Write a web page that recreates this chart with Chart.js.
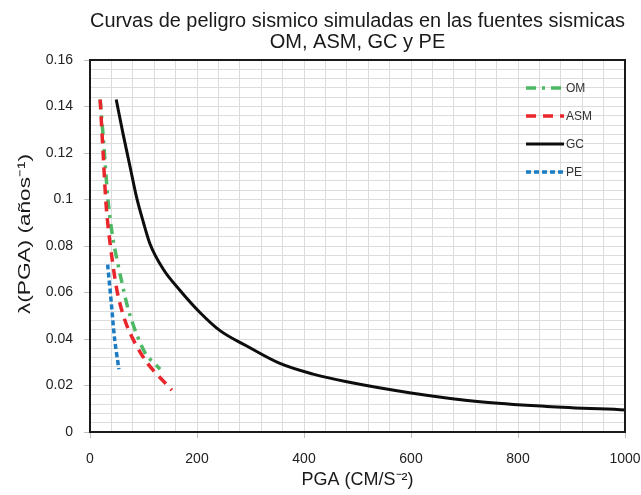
<!DOCTYPE html>
<html>
<head>
<meta charset="utf-8">
<title>Curvas de peligro sismico</title>
<script src="https://cdn.jsdelivr.net/npm/chart.js@4/dist/chart.umd.min.js"></script>
<style>
  body { margin: 0; background: #ffffff; }
  #wrap { width: 641px; height: 495px; }
</style>
</head>
<body>
<div id="wrap"><canvas id="myChart" width="641" height="495"></canvas></div>
<script>
// Series names (legend order)
let seriesNames = ["OM", "ASM", "GC", "PE"];

// PGA values (cm/s2) and annual rates
let omPGA = [19, 25, 34, 43, 59, 75, 103, 131];
let omRate = [0.143, 0.126, 0.099, 0.083, 0.065, 0.050, 0.034, 0.027];

let asmPGA = [19, 25, 31, 41, 53, 72, 106, 153];
let asmRate = [0.143, 0.118, 0.095, 0.075, 0.058, 0.044, 0.030, 0.018];

let gcPGA = [49, 62, 75, 87, 100, 112, 137, 168, 206, 243, 293, 355, 417, 480, 600, 729, 854, 1000];
let gcRate = [0.143, 0.128, 0.114, 0.101, 0.090, 0.081, 0.070, 0.061, 0.0513, 0.0436, 0.037, 0.0295, 0.0249, 0.0216, 0.0168, 0.013, 0.011, 0.0095];

let pePGA = [33, 40, 46, 54];
let peRate = [0.072, 0.055, 0.040, 0.027];

// Axis ticks: labelled every 0.02 / 200, grid every 0.004 / 40
let yTickLabels = [0, 0.02, 0.04, 0.06, 0.08, 0.1, 0.12, 0.14, 0.16];
let xTickLabels = [0, 200, 400, 600, 800, 1000];

// Texts
let chartTitle = ['Curvas de peligro sismico simuladas en las fuentes sismicas', 'OM, ASM, GC y PE'];
let xTitle = 'PGA (CM/S⁻²)';
let yTitle = 'λ(PGA) (años⁻¹)';

// Function to join x and y arrays into points
function toPoints(xs, ys) {
    let pts = [];
    for (let i = 0; i < xs.length; i++) {
        pts.push({ x: xs[i], y: ys[i] });
    }
    return pts;
}

function isLabelled(value, list) {
    return list.some(function(v) { return Math.abs(v - value) < 1e-7; });
}

// Draws the black frame round the plot area
const framePlugin = {
    id: 'frame',
    afterDatasetsDraw(chart) {
        const a = chart.chartArea;
        const c = chart.ctx;
        c.save();
        c.strokeStyle = '#1a1a1a';
        c.lineWidth = 2;
        c.strokeRect(a.left, a.top, a.right - a.left, a.bottom - a.top);
        c.restore();
    }
};

// Vertical axis title, drawn a bit stretched like the original
const yTitlePlugin = {
    id: 'yTitle',
    afterDraw(chart) {
        const c = chart.ctx;
        c.save();
        c.translate(25, 234);
        c.rotate(-Math.PI / 2);
        c.scale(1.33, 1);
        c.fillStyle = '#1a1a1a';
        c.font = '17px "Liberation Sans", Arial, sans-serif';
        c.textAlign = 'center';
        c.textBaseline = 'middle';
        c.fillText(yTitle, 0, 0);
        c.restore();
    }
};

// Small legend inside the plot, top right
const boxLegendPlugin = {
    id: 'boxLegend',
    afterDraw(chart) {
        const c = chart.ctx;
        const x0 = chart.scales.x.getPixelForValue(815);
        let y = chart.scales.y.getPixelForValue(0.148);
        c.save();
        chart.data.datasets.forEach(function(ds) {
            c.strokeStyle = ds.borderColor;
            c.lineWidth = ds.borderWidth;
            c.setLineDash(ds.borderDash || []);
            c.lineCap = 'butt';
            c.beginPath();
            c.moveTo(x0, y);
            c.lineTo(x0 + 38, y);
            c.stroke();
            c.setLineDash([]);
            c.fillStyle = '#333333';
            c.font = '12px "Liberation Sans", Arial, sans-serif';
            c.textBaseline = 'middle';
            c.fillText(ds.label, x0 + 40, y + 1);
            y += 28;
        });
        c.restore();
    }
};

// Initialize the chart
const ctx = document.getElementById('myChart').getContext('2d');
const chart = new Chart(ctx, {
    type: 'line',
    data: {
        datasets: [{
            label: seriesNames[0],
            data: toPoints(omPGA, omRate),
            borderColor: '#4fb865',
            borderWidth: 3.5,
            borderDash: [10, 6, 3, 6],
            tension: 0.3,
            order: 2
        }, {
            label: seriesNames[1],
            data: toPoints(asmPGA, asmRate),
            borderColor: '#e8262b',
            borderWidth: 3.5,
            borderDash: [10, 7],
            tension: 0.3,
            order: 1
        }, {
            label: seriesNames[2],
            data: toPoints(gcPGA, gcRate),
            borderColor: '#0d0d0d',
            borderWidth: 3,
            cubicInterpolationMode: 'monotone',
            order: 3
        }, {
            label: seriesNames[3],
            data: toPoints(pePGA, peRate),
            borderColor: '#1b7cc4',
            borderWidth: 3.5,
            borderDash: [5, 3],
            tension: 0.3,
            order: 4
        }]
    },
    options: {
        responsive: false,
        animation: false,
        elements: { point: { radius: 0 } },
        layout: { padding: { left: 0, right: 16, top: 6, bottom: 0 } },
        plugins: {
            legend: { display: false },
            tooltip: { enabled: false },
            title: {
                display: true,
                fullSize: false,
                text: chartTitle,
                color: '#1a1a1a',
                font: { family: '"Liberation Sans", Arial, sans-serif', size: 20, weight: 'normal', lineHeight: 1.05 },
                padding: { top: 5, bottom: 7 }
            }
        },
        scales: {
            x: {
                type: 'linear',
                min: 0,
                max: 1000,
                border: { display: false },
                afterFit: function(scale) {
                    scale.height = 63;
                    scale.paddingLeft = 0;
                    scale.paddingRight = 0;
                },
                grid: {
                    color: '#dcdcdc',
                    lineWidth: 1,
                    tickLength: 6,
                    tickColor: function(c) {
                        return isLabelled(c.tick.value, xTickLabels) ? '#bfbfbf' : 'rgba(0,0,0,0)';
                    }
                },
                ticks: {
                    stepSize: 40,
                    autoSkip: false,
                    maxRotation: 0,
                    color: '#222222',
                    padding: 13,
                    font: { family: '"Liberation Sans", Arial, sans-serif', size: 14 },
                    callback: function(value) {
                        return isLabelled(value, xTickLabels) ? String(value) : '';
                    }
                },
                title: {
                    display: true,
                    text: xTitle,
                    color: '#1a1a1a',
                    font: { family: '"Liberation Sans", Arial, sans-serif', size: 18 },
                    padding: { top: 2, bottom: 4 }
                }
            },
            y: {
                min: 0,
                max: 0.16,
                border: { display: false },
                afterFit: function(scale) {
                    scale.width = 90;
                },
                grid: {
                    color: '#dcdcdc',
                    lineWidth: 1,
                    tickLength: 6,
                    tickColor: function(c) {
                        return isLabelled(c.tick.value, yTickLabels) ? '#bfbfbf' : 'rgba(0,0,0,0)';
                    }
                },
                ticks: {
                    stepSize: 0.004,
                    autoSkip: false,
                    color: '#222222',
                    padding: 11,
                    font: { family: '"Liberation Sans", Arial, sans-serif', size: 14 },
                    callback: function(value) {
                        return isLabelled(value, yTickLabels) ? String(parseFloat(value.toFixed(2))) : '';
                    }
                },
                title: { display: false }
            }
        }
    },
    plugins: [framePlugin, yTitlePlugin, boxLegendPlugin]
});
</script>
</body>
</html>
